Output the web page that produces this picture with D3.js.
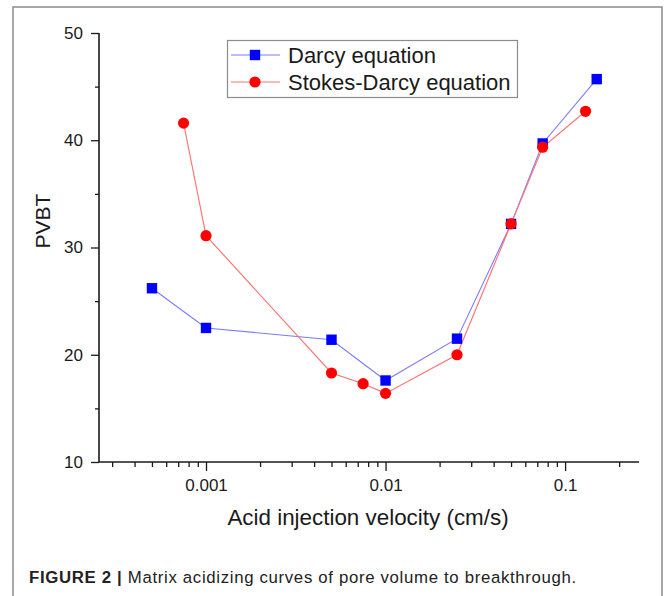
<!DOCTYPE html>
<html>
<head>
<meta charset="utf-8">
<script src="https://cdn.jsdelivr.net/npm/d3@7"></script>
<style>
  body { margin: 0; background: #fff; }
  svg { display: block; font-family: "Liberation Sans", Arial, sans-serif; }
</style>
</head>
<body>
<div id="chart"></div>
<script>
// values
const darcyVel = [0.0005, 0.001, 0.005, 0.01, 0.025, 0.05, 0.075, 0.15];
const darcyPVBT = [26.2, 22.5, 21.4, 17.6, 21.5, 32.2, 39.7, 45.7];
const stokesVel = [0.00075, 0.001, 0.005, 0.0075, 0.01, 0.025, 0.05, 0.075, 0.13];
const stokesPVBT = [41.6, 31.1, 18.3, 17.3, 16.4, 20.0, 32.2, 39.35, 42.7];
const xTickLabels = [0.001, 0.01, 0.1];
const yTickLabels = [10, 20, 30, 40, 50];
const yMinorTicks = [15, 25, 35, 45];
const seriesNames = ["Darcy equation", "Stokes-Darcy equation"];

const W = 665, H = 596;
const plot = {left: 99, right: 639, top: 33, bottom: 462};

const svg = d3.select("#chart").append("svg")
    .attr("width", W)
    .attr("height", H);

// outer frame (open at the bottom)
svg.append("path")
    .attr("d", "M13," + H + "V7H662V" + H)
    .attr("fill", "none")
    .attr("stroke", "#8c8c8c")
    .attr("stroke-width", 1.5);

const x = d3.scaleLog()
    .domain([2.535e-4, 0.258])
    .range([plot.left, plot.right]);
const y = d3.scaleLinear()
    .domain([10, 50])
    .range([plot.bottom, plot.top]);

// x axis: major labelled ticks + minor ticks
const minorX = x.ticks().filter(t => !xTickLabels.some(m => Math.abs(m - t) / m < 1e-6));
const xAxisG = svg.append("g")
    .attr("transform", "translate(0," + plot.bottom + ")");
xAxisG.call(d3.axisBottom(x).tickValues(minorX).tickSize(5).tickFormat(""));
xAxisG.append("g").call(d3.axisBottom(x).tickValues(xTickLabels).tickSize(9).tickPadding(8)
    .tickFormat(d3.format("~g")));
xAxisG.selectAll(".domain").remove();
svg.append("line")
    .attr("x1", plot.left).attr("x2", plot.right)
    .attr("y1", plot.bottom).attr("y2", plot.bottom)
    .attr("stroke", "#1a1a1a").attr("stroke-width", 1.6);

// y axis
const yAxisG = svg.append("g")
    .attr("transform", "translate(" + plot.left + ",0)");
yAxisG.call(d3.axisLeft(y).tickValues(yMinorTicks).tickSize(4).tickFormat(""));
yAxisG.append("g").call(d3.axisLeft(y).tickValues(yTickLabels).tickSize(8).tickPadding(8));
yAxisG.selectAll(".domain").remove();
svg.append("line")
    .attr("x1", plot.left).attr("x2", plot.left)
    .attr("y1", plot.top).attr("y2", plot.bottom)
    .attr("stroke", "#1a1a1a").attr("stroke-width", 1.6);

svg.selectAll(".tick line").attr("stroke", "#1a1a1a").attr("stroke-width", 1.3);
svg.selectAll(".tick text")
    .attr("fill", "#1a1a1a")
    .style("font-size", "17px")
    .style("font-family", "'Liberation Sans', Arial, sans-serif");

// axis titles
svg.append("text")
    .attr("x", 368).attr("y", 525)
    .attr("text-anchor", "middle")
    .attr("fill", "#1a1a1a")
    .style("font-size", "22.4px")
    .text("Acid injection velocity (cm/s)");
svg.append("text")
    .attr("transform", "translate(50,221) rotate(-90)")
    .attr("text-anchor", "middle")
    .attr("fill", "#1a1a1a")
    .style("font-size", "21px")
    .text("PVBT");

// series
const darcy = darcyVel.map((v, i) => ({v: v, p: darcyPVBT[i]}));
const stokes = stokesVel.map((v, i) => ({v: v, p: stokesPVBT[i]}));
const line = d3.line().x(d => x(d.v)).y(d => y(d.p));

svg.append("path").datum(darcy)
    .attr("d", line).attr("fill", "none")
    .attr("stroke", "#7b7bff").attr("stroke-width", 1.1);
svg.append("path").datum(stokes)
    .attr("d", line).attr("fill", "none")
    .attr("stroke", "#ff7070").attr("stroke-width", 1.1);

svg.selectAll(".sq").data(darcy).enter().append("rect")
    .attr("class", "sq")
    .attr("x", d => x(d.v) - 5.2).attr("y", d => y(d.p) - 5.2)
    .attr("width", 10.4).attr("height", 10.4)
    .attr("fill", "#0000ff");
svg.selectAll(".ci").data(stokes).enter().append("circle")
    .attr("class", "ci")
    .attr("cx", d => x(d.v)).attr("cy", d => y(d.p))
    .attr("r", 5.6)
    .attr("fill", "#ff0000");

// legend
const leg = svg.append("g");
leg.append("rect")
    .attr("x", 227.5).attr("y", 40.5).attr("width", 290).attr("height", 57)
    .attr("fill", "#fff").attr("stroke", "#8c8c8c").attr("stroke-width", 1.2);
const legY = [55, 82];
const legStroke = ["#7b7bff", "#ff7070"];
seriesNames.forEach((name, i) => {
    leg.append("line")
        .attr("x1", 231).attr("x2", 280)
        .attr("y1", legY[i]).attr("y2", legY[i])
        .attr("stroke", legStroke[i]).attr("stroke-width", 1.1);
    if (i === 0) {
        leg.append("rect")
            .attr("x", 255 - 5.2).attr("y", legY[i] - 5.2)
            .attr("width", 10.4).attr("height", 10.4)
            .attr("fill", "#0000ff");
    } else {
        leg.append("circle")
            .attr("cx", 255).attr("cy", legY[i]).attr("r", 5.6)
            .attr("fill", "#ff0000");
    }
    leg.append("text")
        .attr("x", 288).attr("y", legY[i] + 8)
        .attr("fill", "#1a1a1a")
        .style("font-size", "22px")
        .text(name);
});

// caption
const cap = svg.append("text")
    .attr("x", 29).attr("y", 583)
    .attr("fill", "#222")
    .style("font-size", "16.8px");
cap.append("tspan")
    .style("font-weight", "bold")
    .text("FIGURE 2 | ");
cap.append("tspan")
    .text("Matrix acidizing curves of pore volume to breakthrough.");
const capW = cap.node().getComputedTextLength();
const nChars = cap.text().length;
cap.attr("letter-spacing", ((548 - capW) / nChars).toFixed(2));
</script>
</body>
</html>
